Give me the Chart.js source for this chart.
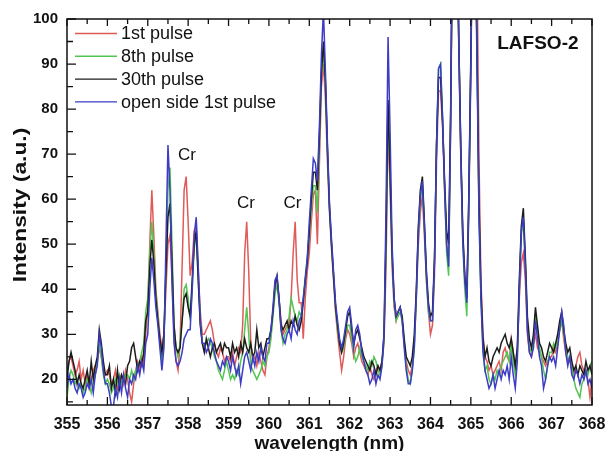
<!DOCTYPE html>
<html lang="en">
<head>
  <meta charset="UTF-8">
  <title>LAFSO-2 spectra</title>
  <script src="https://cdn.jsdelivr.net/npm/chart.js"></script>
  <style>
    html, body { margin: 0; padding: 0; background: #fff; }
    #wrap { width: 606px; height: 451px; }
  </style>
</head>
<body>
  <div id="wrap"><canvas id="spectrum" width="606" height="451"></canvas></div>

  <script>
    // sampling grid (nm)
    const waveStart = 355;
    const waveStep = 0.05;

    // one row per nm, 20 samples each (last row ends at 368.00)
    const pulse1 = [
      22, 24, 25, 23, 21, 22, 24, 20, 22, 19, 21, 18, 20, 22, 23, 24, 27, 25, 22, 21,
      22, 21, 19, 20, 22, 18, 20, 21, 19, 22, 20, 17, 15, 19, 22, 24, 22, 25, 23, 30,
      36, 50, 62, 52, 40, 35, 30, 27, 30, 40, 50, 52, 42, 30, 24, 22, 28, 45, 62, 65,
      55, 43, 46, 53, 54, 44, 35, 30, 30, 31, 32, 33, 31, 28, 26, 25, 27, 26, 24, 25,
      25, 24, 26, 23, 25, 27, 26, 32, 48, 55, 44, 28, 24, 25, 23, 26, 24, 22, 21, 25,
      27, 30, 35, 40, 42, 38, 33, 30, 31, 32, 32, 38, 48, 55, 42, 37, 37, 29, 38, 44,
      48, 55, 61, 62, 50, 68, 85, 90, 82, 68, 57, 49, 42, 35, 30, 26, 22, 25, 29, 31,
      30, 28, 25, 27, 28, 26, 24, 23, 22, 21, 23, 21, 20, 22, 23, 22, 24, 28, 45, 76,
      63, 45, 36, 33, 35, 36, 33, 28, 24, 22, 21, 23, 28, 38, 50, 57, 61, 52, 42, 35,
      30, 32, 43, 68, 84, 84, 76, 62, 50, 47, 76, 122, 148, 124, 94, 70, 52, 43, 38, 58,
      88, 125, 145, 115, 70, 42, 30, 25, 24, 22, 23, 21, 22, 23, 24, 22, 26, 27, 25, 24,
      29, 26, 22, 26, 38, 46, 48, 42, 30, 26, 25, 28, 30, 27, 26, 25, 24, 23, 24, 25,
      25, 27, 26, 28, 31, 33, 29, 26, 24, 25, 22, 21, 23, 25, 26, 23, 22, 21, 20, 16, 20
    ];
    const pulse8 = [
      16, 20, 22, 21, 19, 20, 18, 19, 17, 18, 20, 19, 17, 19, 21, 24, 28, 25, 21, 19,
      20, 19, 17, 18, 20, 19, 21, 19, 20, 21, 21, 20, 22, 20, 22, 23, 24, 26, 28, 35,
      38, 48, 55, 48, 39, 34, 28, 24, 28, 45, 62, 67, 50, 32, 27, 25, 28, 33, 40, 41,
      38, 33, 40, 49, 52, 42, 33, 28, 27, 28, 29, 28, 27, 25, 24, 22, 21, 20, 22, 24,
      22, 20, 21, 20, 22, 21, 24, 26, 31, 36, 30, 23, 22, 21, 20, 21, 22, 24, 23, 25,
      26, 29, 34, 39, 41, 37, 31, 28, 30, 31, 34, 38, 36, 34, 33, 35, 34, 38, 43, 47,
      52, 58, 63, 63, 57, 72, 87, 93, 85, 70, 58, 50, 43, 36, 31, 28, 26, 27, 30, 32,
      32, 29, 26, 24, 25, 27, 25, 24, 23, 22, 24, 23, 25, 24, 22, 21, 23, 29, 50, 80,
      65, 47, 37, 33, 34, 35, 33, 28, 23, 20, 19, 22, 27, 38, 52, 60, 63, 53, 42, 35,
      33, 33, 46, 72, 89, 90, 78, 62, 48, 43, 77, 125, 150, 125, 96, 70, 50, 40, 34, 58,
      90, 130, 125, 95, 58, 38, 27, 22, 23, 20, 19, 21, 20, 22, 21, 23, 24, 25, 26, 24,
      28, 24, 21, 25, 40, 52, 55, 46, 32, 27, 26, 28, 34, 31, 27, 25, 22, 20, 23, 26,
      26, 28, 27, 29, 31, 33, 30, 27, 25, 24, 23, 20, 18, 17, 16, 19, 20, 22, 21, 23, 24
    ];
    const pulse30 = [
      20, 24, 26, 24, 22, 19, 21, 19, 18, 20, 22, 19, 24, 20, 23, 25, 31, 28, 24, 21,
      21, 23, 18, 20, 17, 22, 18, 21, 20, 19, 23, 24, 27, 28, 25, 22, 24, 23, 26, 33,
      35, 45, 51, 46, 38, 33, 29, 26, 30, 44, 56, 59, 46, 32, 27, 26, 27, 33, 38, 39,
      36, 34, 42, 50, 53, 42, 32, 28, 26, 29, 27, 25, 27, 28, 26, 27, 28, 26, 28, 27,
      27, 25, 28, 26, 27, 25, 28, 26, 29, 27, 26, 28, 25, 26, 31, 27, 28, 25, 27, 29,
      29, 31, 35, 41, 43, 38, 32, 31, 32, 33, 31, 33, 32, 34, 32, 31, 33, 37, 42, 46,
      53, 60, 66, 66, 62, 74, 88, 95, 86, 71, 58, 50, 43, 36, 32, 28, 26, 28, 31, 34,
      35, 31, 28, 30, 31, 29, 27, 25, 24, 23, 22, 24, 23, 21, 23, 22, 24, 30, 52, 82,
      66, 48, 38, 34, 35, 36, 34, 29, 25, 24, 23, 25, 30, 40, 54, 62, 65, 55, 44, 37,
      34, 35, 47, 72, 87, 87, 77, 64, 53, 50, 80, 125, 150, 126, 96, 72, 53, 43, 38, 61,
      92, 130, 125, 95, 60, 40, 29, 25, 27, 24, 23, 25, 26, 27, 26, 28, 29, 30, 28, 27,
      29, 26, 23, 27, 42, 54, 58, 47, 34, 29, 27, 30, 36, 32, 28, 27, 25, 24, 26, 28,
      27, 26, 28, 30, 33, 35, 31, 28, 26, 27, 24, 22, 23, 21, 23, 22, 21, 24, 22, 23, 21
    ];
    const openSide1 = [
      18, 21, 19, 20, 18, 17, 19, 18, 16, 17, 19, 18, 20, 17, 21, 23, 30, 27, 22, 19,
      19, 17, 14, 14, 18, 16, 20, 17, 21, 18, 16, 20, 19, 21, 20, 23, 21, 24, 22, 28,
      30, 40, 47, 42, 36, 32, 27, 22, 27, 50, 72, 62, 42, 28, 24, 23, 24, 26, 29, 30,
      31, 31, 40, 52, 56, 45, 33, 28, 28, 26, 27, 29, 28, 26, 24, 23, 22, 24, 23, 25,
      24, 22, 25, 23, 21, 23, 19, 22, 25, 26, 24, 22, 25, 23, 26, 24, 27, 25, 24, 28,
      28, 31, 36, 42, 43, 38, 31, 29, 28, 30, 31, 29, 33, 31, 30, 33, 34, 38, 42, 47,
      55, 62, 69, 68, 64, 76, 92, 102, 88, 72, 59, 51, 44, 37, 33, 29, 27, 29, 32, 35,
      36, 32, 27, 31, 32, 30, 26, 24, 22, 21, 19, 20, 22, 19, 21, 20, 23, 30, 58, 96,
      75, 50, 38, 34, 35, 36, 33, 27, 22, 19, 19, 22, 27, 39, 53, 61, 64, 54, 43, 36,
      33, 33, 46, 72, 89, 90, 78, 63, 50, 45, 78, 126, 150, 125, 96, 71, 51, 42, 37, 60,
      90, 128, 122, 92, 57, 38, 26, 22, 20, 18, 19, 21, 18, 20, 22, 20, 22, 21, 23, 20,
      25, 21, 18, 24, 40, 53, 56, 45, 31, 26, 25, 27, 33, 29, 25, 23, 18, 20, 23, 25,
      24, 25, 23, 27, 31, 35, 32, 26, 23, 25, 21, 20, 22, 21, 19, 21, 20, 22, 19, 20, 18
    ];

    const seriesLabels = ['1st pulse', '8th pulse', '30th pulse', 'open side 1st pulse'];
    const seriesColors = ['#e05a5a', '#52c652', '#1c1c1c', '#3c3cc4'];

    const xTicks = [355, 356, 357, 358, 359, 360, 361, 362, 363, 364, 365, 366, 367, 368];
    const yTicks = [20, 30, 40, 50, 60, 70, 80, 90, 100];
    const yMin = 14.3, yMax = 100;

    // peak annotations [x, y, text]
    const notes = [[357.97, 69.8, 'Cr'], [359.43, 59.0, 'Cr'], [360.58, 59.0, 'Cr']];

    const wavelengths = pulse1.map((_, i) => +(waveStart + i * waveStep).toFixed(2));
    const toPoints = arr => arr.map((v, i) => ({ x: wavelengths[i], y: v }));

    const allSeries = [pulse1, pulse8, pulse30, openSide1];
    const datasets = allSeries.map((arr, i) => ({
      label: seriesLabels[i],
      data: toPoints(arr),
      borderColor: seriesColors[i],
      borderWidth: 1.5,
      pointRadius: 0,
      tension: 0,
      order: allSeries.length - i   // blue on top
    }));

    // frame, inward ticks, legend, titles and labels
    const decorPlugin = {
      id: 'decor',
      afterDatasetsDraw(chart) {
        const { ctx, chartArea: a, scales } = chart;
        const xs = scales.x, ys = scales.y;
        ctx.save();
        ctx.strokeStyle = '#111';
        ctx.lineWidth = 1.5;
        ctx.strokeRect(a.left, a.top, a.right - a.left, a.bottom - a.top);

        ctx.lineWidth = 1.3;
        ctx.beginPath();
        for (let v = 355; v <= 368.001; v += 0.5) {
          const px = xs.getPixelForValue(v);
          const major = Math.abs(v - Math.round(v)) < 0.01;
          ctx.moveTo(px, a.bottom); ctx.lineTo(px, a.bottom - (major ? 8 : 5));
          ctx.moveTo(px, a.top); ctx.lineTo(px, a.top + (major ? 7 : 5));
        }
        for (let v = 15; v <= 100; v += 5) {
          const py = ys.getPixelForValue(v);
          const major = v % 10 === 0;
          ctx.moveTo(a.left, py); ctx.lineTo(a.left + (major ? 9 : 6), py);
        }
        ctx.stroke();

        // legend
        ctx.font = '18px "Liberation Sans", Arial, sans-serif';
        ctx.textBaseline = 'middle';
        ctx.textAlign = 'left';
        seriesLabels.forEach((lab, i) => {
          const y = 33.5 + i * 22.8;
          ctx.strokeStyle = seriesColors[i];
          ctx.lineWidth = 1.4;
          ctx.beginPath(); ctx.moveTo(75, y); ctx.lineTo(117, y); ctx.stroke();
          ctx.fillStyle = '#111';
          ctx.fillText(lab, 121, y + 1);
        });

        // Cr labels
        ctx.font = '17px "Liberation Sans", Arial, sans-serif';
        ctx.textAlign = 'center';
        notes.forEach(([x, y, t]) => {
          ctx.fillText(t, xs.getPixelForValue(x), ys.getPixelForValue(y));
        });

        ctx.font = 'bold 19px "Liberation Sans", Arial, sans-serif';
        ctx.fillText('LAFSO-2', xs.getPixelForValue(366.66), ys.getPixelForValue(94.6));

        // axis titles
        ctx.fillText('wavelength (nm)', (a.left + a.right) / 2, 444);
        ctx.translate(21, 205);
        ctx.rotate(-Math.PI / 2);
        ctx.scale(1.2, 1);
        ctx.fillText('Intensity (a.u.)', 0, 0);
        ctx.restore();
      }
    };

    new Chart(document.getElementById('spectrum'), {
      type: 'line',
      data: { datasets },
      options: {
        responsive: false,
        animation: false,
        layout: { padding: { top: 19, right: 14, left: 0, bottom: 0 } },
        plugins: { legend: { display: false }, tooltip: { enabled: false } },
        scales: {
          x: {
            type: 'linear',
            min: 355, max: 368,
            grid: { display: false, drawTicks: false },
            border: { display: false },
            afterBuildTicks: s => { s.ticks = xTicks.map(v => ({ value: v })); },
            afterFit: s => { s.height = 46; s.paddingLeft = 0; s.paddingRight = 0; },
            ticks: {
              color: '#111', padding: 10,
              font: { family: '"Liberation Sans", Arial, sans-serif', size: 16, weight: 'bold' },
              maxRotation: 0, autoSkip: false
            }
          },
          y: {
            min: yMin, max: yMax,
            grid: { display: false, drawTicks: false },
            border: { display: false },
            afterBuildTicks: s => { s.ticks = yTicks.map(v => ({ value: v })); },
            afterFit: s => { s.width = 67; s.paddingTop = 0; s.paddingBottom = 0; },
            ticks: {
              color: '#111', padding: 9,
              font: { family: '"Liberation Sans", Arial, sans-serif', size: 15, weight: 'bold' }
            }
          }
        }
      },
      plugins: [decorPlugin]
    });
  </script>
</body>
</html>
